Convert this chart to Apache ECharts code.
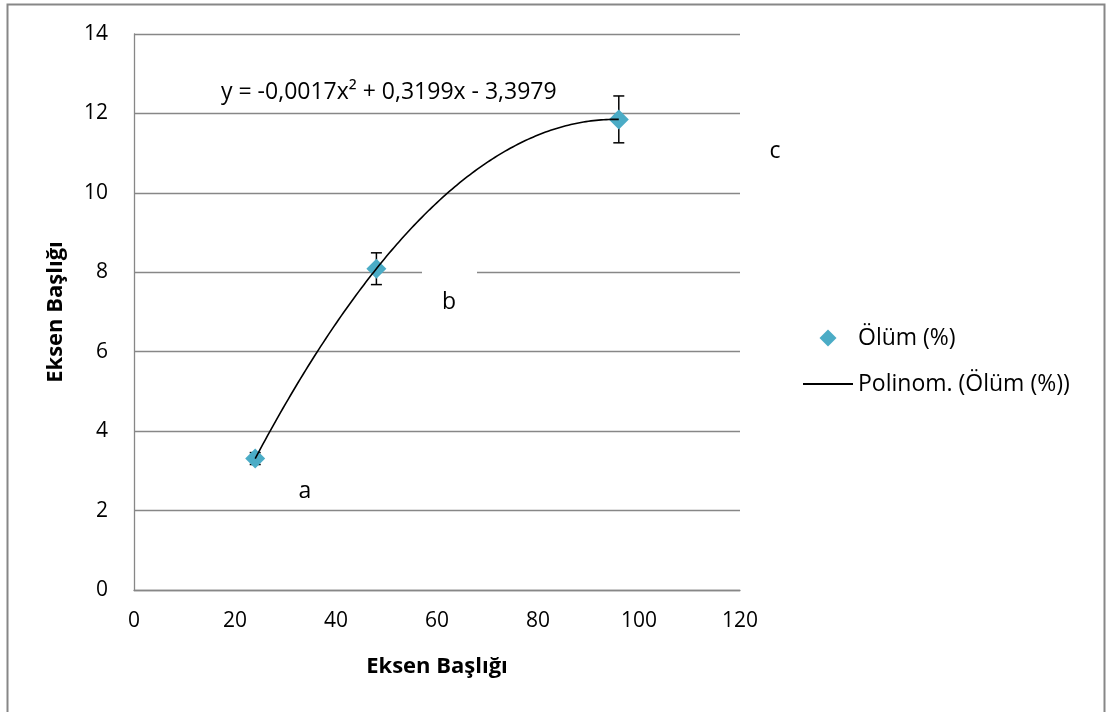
<!DOCTYPE html>
<html>
<head>
<meta charset="utf-8">
<script src="https://cdn.jsdelivr.net/npm/echarts@6/dist/echarts.min.js"></script>
<style>
  html, body { margin: 0; padding: 0; background: #fff; }
  #chart { width: 1109px; height: 712px; }
</style>
</head>
<body>
<div id="chart"></div>
<script>
// Exposure time (h) and mortality (%) with standard error
const times = [24, 48, 96];
const mortality = [3.31, 8.09, 11.85];
const mortalityErr = [0.15, 0.4, 0.59];
const groupLabels = ['a', 'b', 'c'];
const xTicks = [0, 20, 40, 60, 80, 100, 120];
const yTicks = [0, 2, 4, 6, 8, 10, 12, 14];
const seriesName = 'Ölüm (%)';
const trendName = 'Polinom. (Ölüm (%))';
const equationText = 'y = -0,0017x² + 0,3199x - 3,3979';
const axisTitle = 'Eksen Başlığı';

const FONT = '"Open Sans", "DejaVu Sans", sans-serif';
const GRID_GRAY = '#878787';
const MARKER = '#4BACC6';
const TEXT_FONT = '23px ' + FONT;
// diamond centred in a 50x17 legend slot (the two zero-length segments pin the slot width)
const LEGEND_DIAMOND = 'path://M25,0L33.5,8.5L25,17L16.5,8.5Z M0,8.5L0,8.5 M50,8.5L50,8.5';

// Second-order least-squares fit of mortality against time
function polyFit2(xs, ys) {
  const S = [0, 0, 0, 0, 0];
  const T = [0, 0, 0];
  for (let i = 0; i < xs.length; i++) {
    let p = 1;
    for (let k = 0; k < 5; k++) { S[k] += p; if (k < 3) T[k] += p * ys[i]; p *= xs[i]; }
  }
  // normal equations: [S0 S1 S2; S1 S2 S3; S2 S3 S4] * [c b a] = [T0 T1 T2]
  const M = [[S[0], S[1], S[2], T[0]], [S[1], S[2], S[3], T[1]], [S[2], S[3], S[4], T[2]]];
  for (let c = 0; c < 3; c++) {
    let piv = c;
    for (let r = c + 1; r < 3; r++) if (Math.abs(M[r][c]) > Math.abs(M[piv][c])) piv = r;
    [M[c], M[piv]] = [M[piv], M[c]];
    for (let r = 0; r < 3; r++) {
      if (r === c) continue;
      const f = M[r][c] / M[c][c];
      for (let k = c; k < 4; k++) M[r][k] -= f * M[c][k];
    }
  }
  return [M[0][3] / M[0][0], M[1][3] / M[1][1], M[2][3] / M[2][2]]; // c, b, a
}

const coef = polyFit2(times, mortality);
const trendData = [];
const x0 = Math.min(...times), x1 = Math.max(...times);
for (let x = x0; x <= x1 + 1e-9; x += 0.5) {
  trendData.push([x, coef[0] + coef[1] * x + coef[2] * x * x]);
}

const chart = echarts.init(document.getElementById('chart'), null, { renderer: 'canvas' });

const option = {
  animation: false,
  backgroundColor: '#ffffff',
  textStyle: { fontFamily: FONT },
  grid: { left: 134, right: 369, top: 34, bottom: 122, containLabel: false },
  xAxis: {
    type: 'value',
    min: xTicks[0], max: xTicks[xTicks.length - 1], interval: 20,
    name: axisTitle, nameLocation: 'middle', nameGap: 66,
    nameTextStyle: { fontFamily: FONT, fontSize: 22, fontWeight: 'bold', color: '#000' },
    axisLine: { show: true, onZero: false, lineStyle: { color: GRID_GRAY, width: 1.3 } },
    axisTick: { show: false },
    splitLine: { show: false },
    axisLabel: { margin: 21, fontFamily: FONT, fontSize: 21, color: '#000' }
  },
  yAxis: {
    type: 'value',
    min: yTicks[0], max: yTicks[yTicks.length - 1], interval: 2,
    name: axisTitle, nameLocation: 'middle', nameGap: 67, nameRotate: 90,
    nameTextStyle: { fontFamily: FONT, fontSize: 22, fontWeight: 'bold', color: '#000' },
    axisLine: { show: true, lineStyle: { color: GRID_GRAY, width: 1.3 } },
    axisTick: { show: false },
    splitLine: { show: true, lineStyle: { color: GRID_GRAY, width: 1.3 } },
    axisLabel: { margin: 26, fontFamily: FONT, fontSize: 21, color: '#000' }
  },
  legend: {
    orient: 'vertical',
    left: 797, top: 321.5,
    itemWidth: 50, itemHeight: 17, itemGap: 23,
    selectedMode: false,
    textStyle: { fontFamily: FONT, fontSize: 23, color: '#000', lineHeight: 23 },
    data: [
      { name: seriesName, icon: LEGEND_DIAMOND },
      { name: trendName, itemStyle: { opacity: 0 } }
    ]
  },
  series: [
    {
      name: 'err',
      type: 'custom',
      z: 2,
      silent: true,
      data: times.map((t, i) => [t, mortality[i], mortalityErr[i]]),
      renderItem: function (params, api) {
        const x = api.value(0), y = api.value(1), e = api.value(2);
        const top = api.coord([x, y + e]);
        const bot = api.coord([x, y - e]);
        const hw = 5.5;
        const style = { stroke: '#000', lineWidth: 1.5 };
        return {
          type: 'group',
          children: [
            { type: 'line', shape: { x1: top[0], y1: top[1], x2: bot[0], y2: bot[1] }, style: style },
            { type: 'line', shape: { x1: top[0] - hw, y1: top[1], x2: top[0] + hw, y2: top[1] }, style: style },
            { type: 'line', shape: { x1: bot[0] - hw, y1: bot[1], x2: bot[0] + hw, y2: bot[1] }, style: style }
          ]
        };
      }
    },
    {
      name: seriesName,
      type: 'scatter',
      z: 3,
      symbol: 'diamond',
      symbolSize: 20,
      itemStyle: { color: MARKER, opacity: 1 },
      data: times.map((t, i) => [t, mortality[i]])
    },
    {
      name: trendName,
      type: 'line',
      z: 4,
      showSymbol: false,
      symbol: 'none',
      smooth: false,
      lineStyle: { color: '#000', width: 1.6 },
      itemStyle: { color: '#000' },
      data: trendData
    }
  ],
  graphic: [
    {
      type: 'rect', z: -1, silent: true,
      shape: { x: 7.5, y: 4.5, width: 1097, height: 730 },
      style: { fill: 'none', stroke: GRID_GRAY, lineWidth: 2 }
    },
    {
      type: 'text', x: 221, y: 92, z: 10, silent: true,
      style: { text: equationText, font: TEXT_FONT, fill: '#000', align: 'left', verticalAlign: 'middle' }
    },
    {
      type: 'text', x: 305, y: 491, z: 10, silent: true,
      style: { text: groupLabels[0], font: TEXT_FONT, fill: '#000', align: 'center', verticalAlign: 'middle' }
    },
    // text box behind the "b" label, white-filled over the gridline
    {
      type: 'rect', z: 9, silent: true,
      shape: { x: 422, y: 266, width: 55, height: 62 },
      style: { fill: '#ffffff', stroke: 'none' }
    },
    {
      type: 'text', x: 449, y: 302, z: 10, silent: true,
      style: { text: groupLabels[1], font: TEXT_FONT, fill: '#000', align: 'center', verticalAlign: 'middle' }
    },
    {
      type: 'text', x: 775, y: 151, z: 10, silent: true,
      style: { text: groupLabels[2], font: TEXT_FONT, fill: '#000', align: 'center', verticalAlign: 'middle' }
    }
  ]
};

chart.setOption(option);
</script>
</body>
</html>
